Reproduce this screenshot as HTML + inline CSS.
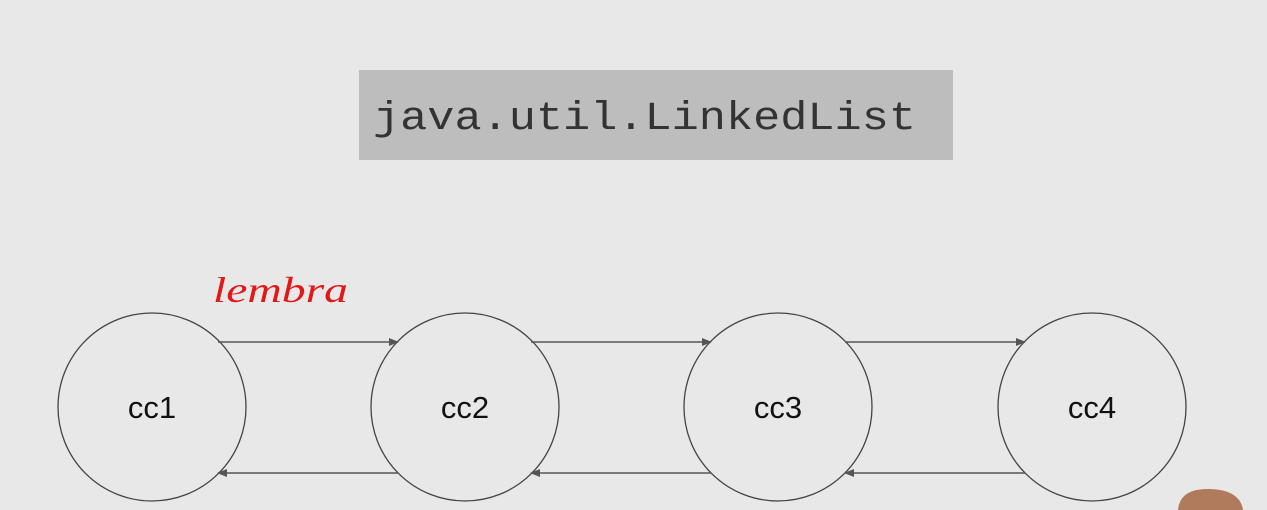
<!DOCTYPE html>
<html><head><style>
html,body{margin:0;padding:0;background:#e8e8e8;width:1267px;height:510px;overflow:hidden;}
body{position:relative;}
</style></head><body>
<svg width="1267" height="510" xmlns="http://www.w3.org/2000/svg" style="position:absolute;left:0;top:0;display:block">
<defs>
<marker id="a" markerWidth="10" markerHeight="8" refX="9" refY="4" orient="auto" markerUnits="userSpaceOnUse">
<path d="M0,0 L10,4 L0,8 z" fill="#555"/></marker>
</defs>
<rect x="359" y="70" width="594" height="90" fill="#bdbdbd"/>
<text x="373" y="129" font-family="Liberation Mono, monospace" font-size="40" fill="#333" textLength="543" lengthAdjust="spacingAndGlyphs">java.util.LinkedList</text>
<text x="213" y="302" font-family="Liberation Serif, serif" font-style="italic" font-size="36" fill="#e01818" textLength="135" lengthAdjust="spacingAndGlyphs">lembra</text>
<g fill="none" stroke="#444" stroke-width="1.3">
<circle cx="152" cy="407" r="94"/>
<circle cx="465" cy="407" r="94"/>
<circle cx="778" cy="407" r="94"/>
<circle cx="1092" cy="407" r="94"/>
</g>
<g stroke="#555" stroke-width="1.5" marker-end="url(#a)">
<line x1="218" y1="342" x2="398" y2="342"/>
<line x1="531" y1="342" x2="711" y2="342"/>
<line x1="845" y1="342" x2="1025" y2="342"/>
<line x1="398" y1="473" x2="218" y2="473"/>
<line x1="711" y1="473" x2="531" y2="473"/>
<line x1="1025" y1="473" x2="845" y2="473"/>
</g>
<g font-family="Liberation Sans, sans-serif" font-size="31" fill="#111" text-anchor="middle">
<text x="152" y="418">cc1</text>
<text x="465" y="418">cc2</text>
<text x="778" y="418">cc3</text>
<text x="1092" y="418">cc4</text>
</g>
<path d="M1178,510 Q1180,488 1210,489 Q1240,490 1243,510 Z" fill="#b07a5c"/>
</svg>
</body></html>
